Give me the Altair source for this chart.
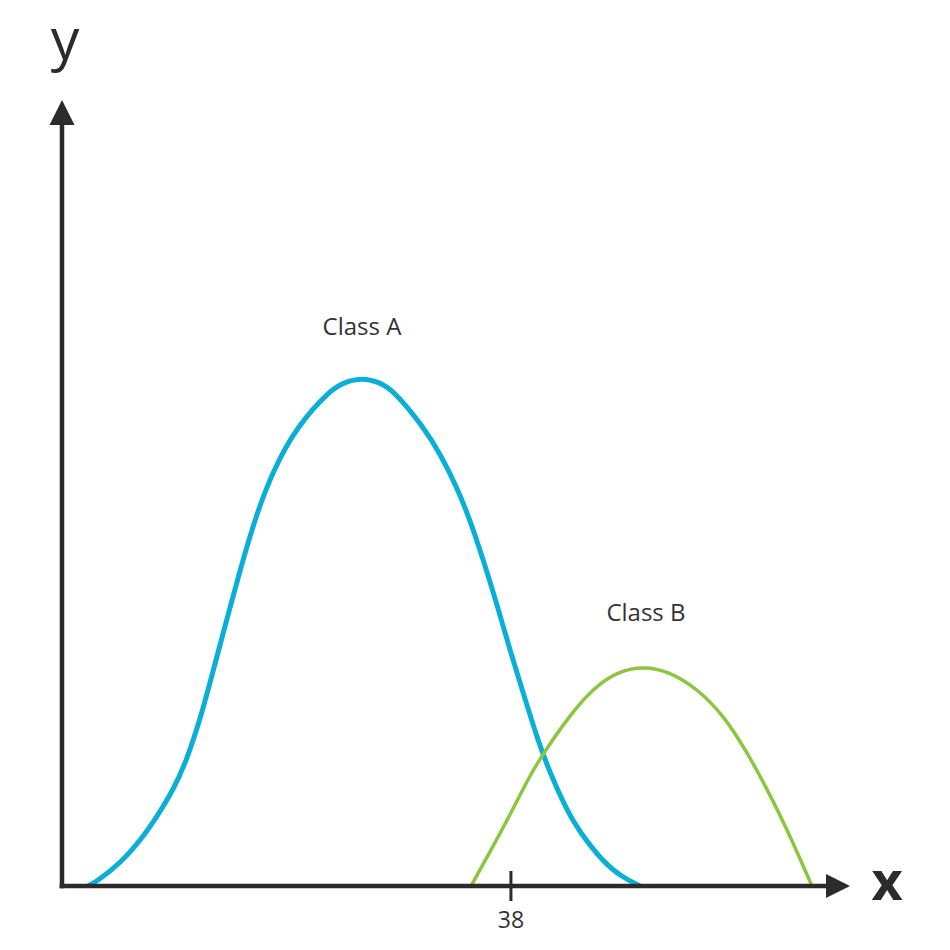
import altair as alt
import pandas as pd

# Class A curve (x, y)
a_x = [2.20, 2.88, 4.99, 6.88, 8.02, 9.42, 10.56, 11.68, 12.81, 13.94, 15.07, 16.48, 17.89, 19.87,
       22.68, 23.95, 25.39, 26.83, 28.02, 30.58, 31.99, 33.41, 34.54, 35.66, 36.79, 37.92, 39.05,
       40.18, 41.31, 42.72, 43.70, 45.79, 47.40, 48.93]
a_y = [0, 0.51, 2.93, 6.27, 8.81, 12.21, 16.03, 21.12, 27.48, 33.84, 40.20, 47.42, 52.93, 58.44,
       63.10, 64.12, 64.63, 64.12, 63.10, 58.44, 55.05, 50.80, 46.56, 41.48, 35.97, 29.99, 24.52,
       18.99, 14.34, 9.67, 7.12, 3.05, 1.15, 0]
# Class B curve
b_x = [34.62, 36.23, 37.92, 39.61, 41.03, 43.00, 44.97, 46.95, 49.20, 51.46, 53.72, 55.98, 57.96,
       59.65, 61.34, 63.48]
b_y = [0, 4.36, 9.03, 14.12, 17.52, 21.76, 25.15, 27.26, 27.99, 27.26, 25.15, 21.76, 17.09,
       12.43, 7.34, 0]

classes = ["Class A", "Class B"]
tick_values = [38]
tick_labels = ["38"]

AXIS = "#2b2b2b"
TEXT = "#333333"
BLUE = "#0AAFD8"
GREEN = "#8CC63F"
FONT = "Open Sans"

XMAX = 66.7
YMAX = 100

xs = alt.Scale(domain=[0, XMAX], nice=False, zero=False)
ys = alt.Scale(domain=[0, YMAX], nice=False, zero=False)

df_a = pd.DataFrame({"x": a_x, "y": a_y, "cls": classes[0]})
df_b = pd.DataFrame({"x": b_x, "y": b_y, "cls": classes[1]})

line_a = alt.Chart(df_a).mark_line(color=BLUE, strokeWidth=5, interpolate="basis").encode(
    x=alt.X("x:Q", scale=xs, axis=None), y=alt.Y("y:Q", scale=ys, axis=None))
line_b = alt.Chart(df_b).mark_line(color=GREEN, strokeWidth=3.5, interpolate="basis").encode(
    x=alt.X("x:Q", scale=xs, axis=None), y=alt.Y("y:Q", scale=ys, axis=None))

labels_df = pd.DataFrame({"cls": classes, "x": [25.39, 49.43], "y": [71.0, 34.6]})
labels = alt.Chart(labels_df).mark_text(font=FONT, fontSize=24, color=TEXT, baseline="middle", align="center").encode(
    x=alt.X("x:Q", scale=xs, axis=None), y=alt.Y("y:Q", scale=ys, axis=None), text="cls:N")

# axes lines
yaxis = alt.Chart(pd.DataFrame({"x": [0], "y": [-0.3], "y2": [98.0]})).mark_rule(color=AXIS, strokeWidth=4.5).encode(
    x=alt.X("x:Q", scale=xs, axis=None), y=alt.Y("y:Q", scale=ys, axis=None), y2="y2:Q")
xaxis = alt.Chart(pd.DataFrame({"x": [-0.2], "x2": [65.8], "y": [0]})).mark_rule(color=AXIS, strokeWidth=4.5).encode(
    x=alt.X("x:Q", scale=xs, axis=None), x2="x2:Q", y=alt.Y("y:Q", scale=ys, axis=None))

yarrow = alt.Chart(pd.DataFrame({"x": [0], "y": [YMAX]})).mark_point(
    shape="M0,0L1,2L-1,2Z", size=625, filled=True, color=AXIS, opacity=1, strokeWidth=0).encode(
    x=alt.X("x:Q", scale=xs, axis=None), y=alt.Y("y:Q", scale=ys, axis=None))
xarrow = alt.Chart(pd.DataFrame({"x": [XMAX], "y": [0]})).mark_point(
    shape="M0,0L-2,-1L-2,1Z", size=576, filled=True, color=AXIS, opacity=1, strokeWidth=0).encode(
    x=alt.X("x:Q", scale=xs, axis=None), y=alt.Y("y:Q", scale=ys, axis=None))

tick_df = pd.DataFrame({"x": tick_values, "lab": tick_labels})
ticks = alt.Chart(tick_df).mark_rule(color=AXIS, strokeWidth=3).encode(
    x=alt.X("x:Q", scale=xs, axis=None), y=alt.value(771), y2=alt.value(801))
tick_text = alt.Chart(tick_df).mark_text(font=FONT, fontSize=23, color=TEXT, baseline="middle", align="center").encode(
    x=alt.X("x:Q", scale=xs, axis=None), y=alt.value(821), text="lab:N")

ylab = alt.Chart(pd.DataFrame({"t": ["y"]})).mark_text(font=FONT, fontSize=57, fontWeight=500, color=AXIS, baseline="alphabetic", align="center").encode(
    x=alt.value(3), y=alt.value(-41), text="t:N")
xlab = alt.Chart(pd.DataFrame({"t": ["x"]})).mark_text(font=FONT, fontSize=54, fontWeight="bold", color=AXIS, baseline="alphabetic", align="center").encode(
    x=alt.value(825), y=alt.value(800), text="t:N")

chart = alt.layer(line_a, line_b, labels, xaxis, yaxis, ticks, tick_text, yarrow, xarrow, ylab, xlab).properties(
    width=788, height=786,
    background="white",
    padding={"left": 54, "top": 92, "right": 92, "bottom": 56},
    autosize=alt.AutoSizeParams(type="none"),
).configure_view(stroke="transparent", strokeWidth=0)

chart.save("out.html", embed_options={"renderer": "svg", "actions": False})
